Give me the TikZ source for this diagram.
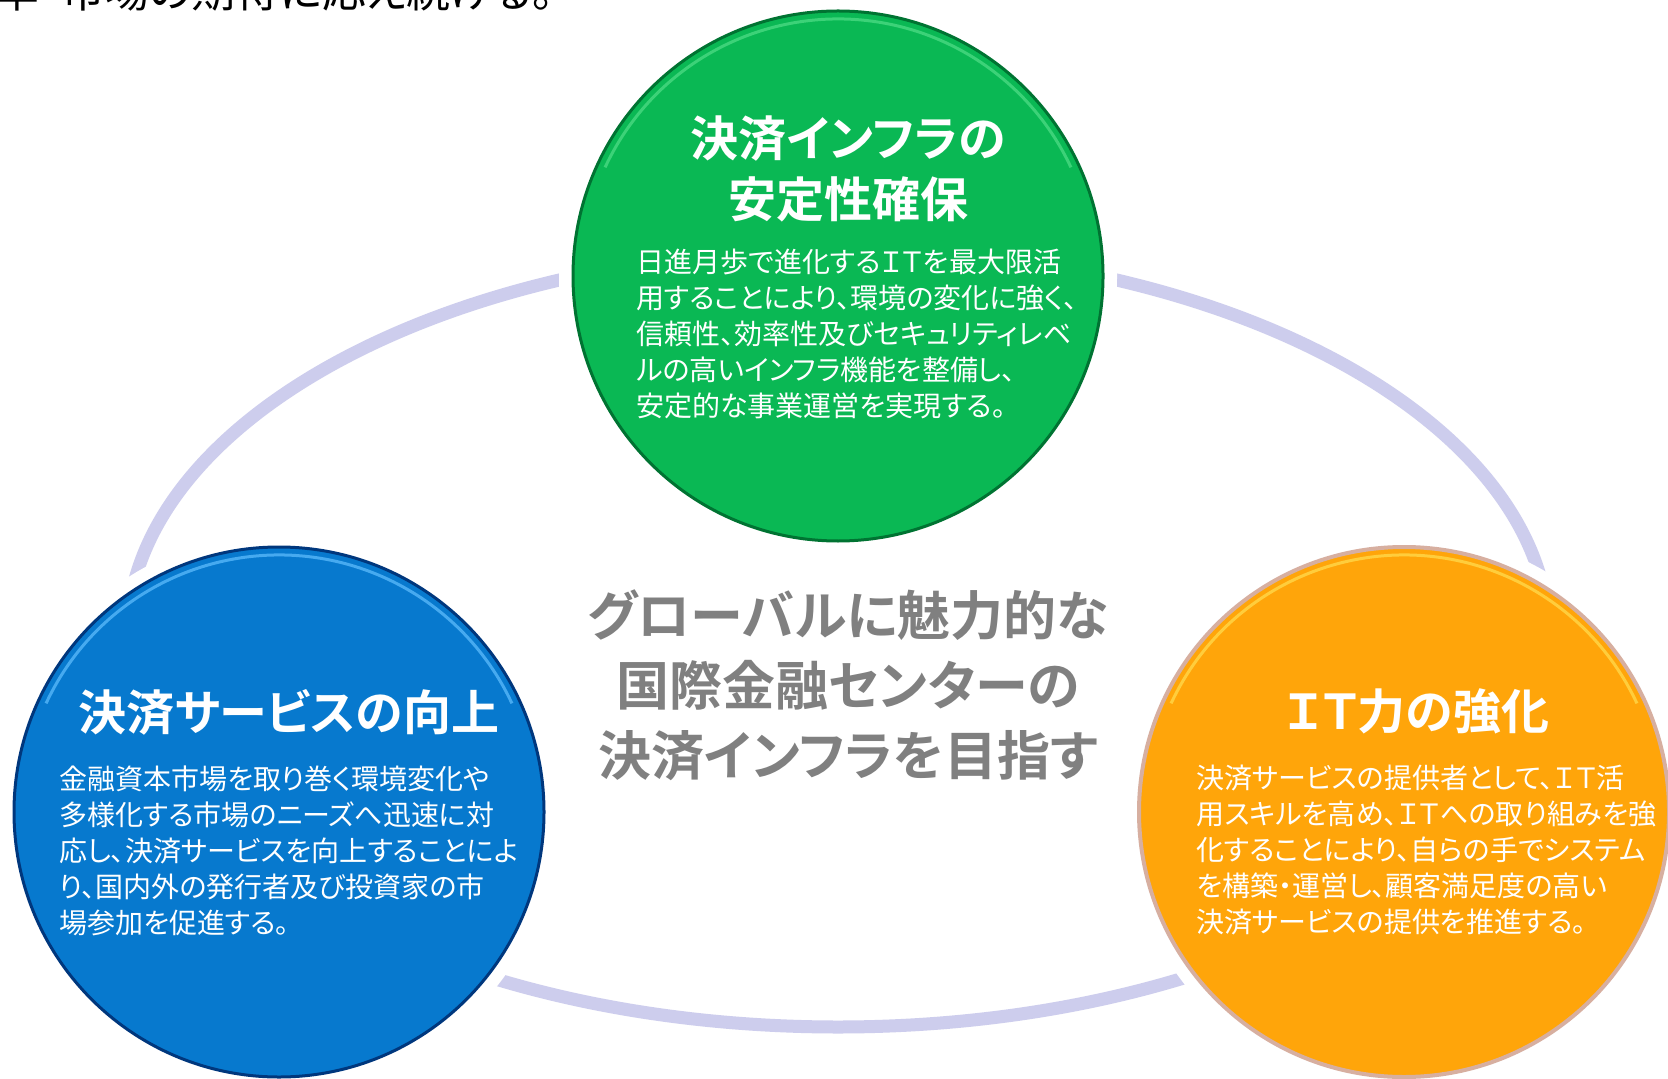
\documentclass[tikz,border=0pt]{standalone}
\usepackage{fontspec}
\newfontfamily\jp{Noto Sans CJK JP}[RawFeature=+palt, BoldFont={Noto Sans CJK JP Bold}]
\definecolor{gfill}{RGB}{10,184,84}
\definecolor{grim}{RGB}{0,115,50}
\definecolor{ghl}{RGB}{60,210,120}
\definecolor{bfill}{RGB}{7,121,206}
\definecolor{brim}{RGB}{0,55,125}
\definecolor{bhl}{RGB}{70,170,240}
\definecolor{ofill}{RGB}{255,165,10}
\definecolor{orim}{RGB}{215,175,160}
\definecolor{ohl}{RGB}{255,205,60}
\definecolor{ringc}{RGB}{205,205,237}
\definecolor{midgray}{RGB}{128,128,128}
\tikzset{
  disc/.style={circle, inner sep=0pt, minimum size=265pt},
  ttl/.style={text=white, align=center, inner sep=0pt, font=\jp\bfseries\fontsize{24}{30.5}\selectfont},
  bodytxt/.style={text=white, align=left, inner sep=0pt, anchor=north west, font=\jp\fontsize{14}{18}\selectfont},
  ring/.style={draw=ringc, line width=6.5pt},
  halo/.style={fill=white},
}
\begin{document}
\begin{tikzpicture}[x=0.5pt, y=-0.5pt]
\useasboundingbox (0,0) rectangle (1668,1079);
\clip (0,0) rectangle (1668,1079);
\fill[white] (0,0) rectangle (1668,1079);
% top text, cut off by the upper edge as in the reference
\node[anchor=base west, inner sep=0pt, font=\jp\fontsize{22}{24}\selectfont] (toptext) at (-5,8) {率・市場の期待に応え続ける。};
% ring
\coordinate (rc) at (838,638);
\draw[ring] (rc) ellipse [x radius=711, y radius=389];
% circle centres
\coordinate (gc) at (838,276);
\coordinate (bc) at (279,812);
\coordinate (oc) at (1404,812);
\fill[halo] (gc) circle [radius=279];
\fill[halo] (bc) circle [radius=279];
\fill[halo] (oc) circle [radius=279];
% discs
\node[disc, fill=gfill, draw=grim, line width=1.5pt] (green) at (gc) {};
\node[disc, fill=bfill, draw=brim, line width=1.5pt] (blue) at (bc) {};
\node[disc, fill=ofill, draw=orim, line width=2pt] (orange) at (oc) {};
\draw[ghl, line width=1.5pt] (gc) ++(205:257) arc [start angle=205, end angle=335, radius=257];
\draw[bhl, line width=1.5pt] (bc) ++(205:257) arc [start angle=205, end angle=335, radius=257];
\draw[ohl, line width=1.5pt] (oc) ++(205:257) arc [start angle=205, end angle=335, radius=257];
% titles
\node[ttl] (gtitle) at (848,169) {決済インフラの\\安定性確保};
\node[ttl] (btitle) at (289,712) {決済サービスの向上};
\node[ttl] (otitle) at (1417,711) {ＩＴ力の強化};
% bodies
\node[bodytxt] (gbody) at (636,249) {日進月歩で進化するＩＴを最大限活\\用することにより、環境の変化に強く、\\信頼性、効率性及びセキュリティレベ\\ルの高いインフラ機能を整備し、\\安定的な事業運営を実現する。};
\node[bodytxt] (bbody) at (59,765) {金融資本市場を取り巻く環境変化や\\多様化する市場のニーズへ迅速に対\\応し、決済サービスを向上することによ\\り、国内外の発行者及び投資家の市\\場参加を促進する。};
\node[bodytxt] (obody) at (1196,765) {決済サービスの提供者として、ＩＴ活\\用スキルを高め、ＩＴへの取り組みを強\\化することにより、自らの手でシステム\\を構築・運営し、顧客満足度の高い\\決済サービスの提供を推進する。};
% centre statement
\node[text=midgray, align=center, inner sep=0pt, font=\jp\bfseries\fontsize{26.5}{35}\selectfont] (centre) at (848,685) {グローバルに魅力的な\\国際金融センターの\\決済インフラを目指す};
\end{tikzpicture}
\end{document}
